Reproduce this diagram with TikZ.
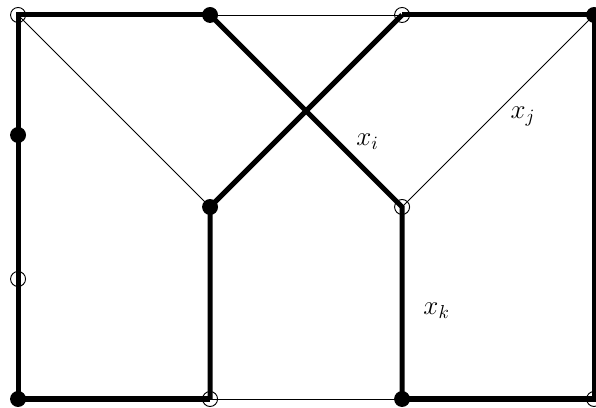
\documentclass[tikz,border=0pt]{standalone}
\usepackage{tikz}
\usetikzlibrary{positioning}
\usepackage{amsmath}

\begin{document}
\begin{tikzpicture}[x=3.6cm, y=3.6cm,
  fulldot/.style={circle, fill=black, inner sep=0pt, minimum size=8.5pt},
  opendot/.style={circle, draw=black, line width=0.5pt, inner sep=0pt, minimum size=8pt},
  heavy/.style={line width=2.7pt, line join=miter},
  light/.style={line width=0.5pt},
  lbl/.style={font=\Large}]
\useasboundingbox (-0.094,-0.042) rectangle (3.010,2.078);
% grid points
\coordinate (t0) at (0,2);
\coordinate (t1) at (1,2);
\coordinate (t2) at (2,2);
\coordinate (t3) at (3,2);
\coordinate (l1) at (0,1.375);
\coordinate (l2) at (0,0.625);
\coordinate (m1) at (1,1);
\coordinate (m2) at (2,1);
\coordinate (b0) at (0,0);
\coordinate (b1) at (1,0);
\coordinate (b2) at (2,0);
\coordinate (b3) at (3,0);
% thin edges
\draw[light] (t1) -- (t2);
\draw[light] (t0) -- (m1);
\draw[light] (t3) -- (m2);
\draw[light] (b1) -- (b2);
% heavy edges
\draw[heavy] (t1) -- (t0) -- (b0) -- (b1);
\draw[heavy] (t2) -- (t3) -- (b3) -- (b2);
\draw[heavy] (t1) -- (m2) -- (b2);
\draw[heavy] (t2) -- (m1) -- (b1);
% vertices
\foreach \v in {t1,t3,l1,m1,b0,b2}{
  \node[fulldot] (d\v) at (\v) {};
}
\foreach \v in {t0,t2,l2,m2,b1,b3}{
  \node[opendot] (o\v) at (\v) {};
}
% labels
\node[lbl] (xi) at (1.82,1.34) {$x_i$};
\node[lbl] (xj) at (2.63,1.47) {$x_j$};
\node[lbl] (xk) at (2.18,0.46) {$x_k$};
\end{tikzpicture}
\end{document}
